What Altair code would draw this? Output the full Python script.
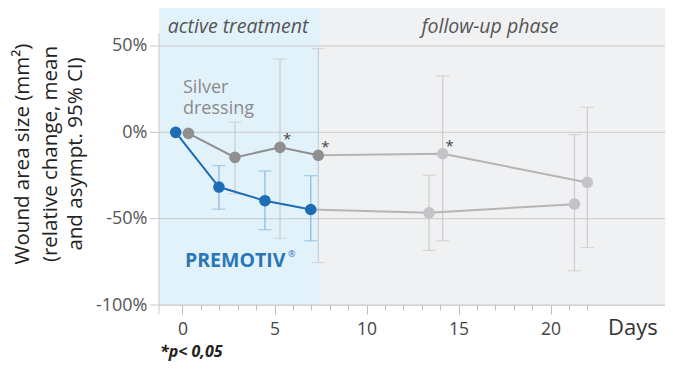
import altair as alt
import pandas as pd

# ---------------- data ----------------
premotiv_day = [-0.37, 1.98, 4.48, 6.97, 13.4, 21.3]
premotiv_mean = [0.0, -31.7, -39.6, -44.7, -46.6, -41.6]
premotiv_lo = [None, -44.5, -56.4, -62.8, -68.4, -80.2]
premotiv_hi = [None, -19.3, -22.4, -25.1, -24.8, -1.3]

silver_day = [0.32, 2.85, 5.3, 7.38, 14.14, 22.0]
silver_mean = [-0.6, -14.5, -8.7, -13.3, -12.4, -29.0]
silver_lo = [None, -35.6, -61.3, -75.4, -62.8, -66.7]
silver_hi = [None, 5.8, 42.5, 48.5, 32.7, 14.5]
silver_sig = [False, False, True, True, True, False]

y_ticks = [-100, -50, 0, 50]
x_ticks = list(range(0, 23))
phase_names = ["active treatment", "follow-up phase"]
phase_start = [-1.277, 7.47]
phase_end = [7.47, 26.22]

# ---------------- tables ----------------
rows = []
for name, d, m, lo, hi, sig in [
    ("P", premotiv_day, premotiv_mean, premotiv_lo, premotiv_hi, [False] * 6),
    ("S", silver_day, silver_mean, silver_lo, silver_hi, silver_sig),
]:
    for i in range(len(d)):
        rows.append(dict(series=name, idx=i, day=d[i], mean=m[i], lo=lo[i], hi=hi[i],
                         sig=sig[i], phase="active" if i < 4 else "follow"))
df = pd.DataFrame(rows)
df["pt"] = df.apply(lambda r: r.series + "_" + r.phase, axis=1)
df["err"] = df.apply(lambda r: "P_active" if r.pt == "P_active" else "other", axis=1)

line_rows = []
for _, r in df.iterrows():
    if r.idx <= 3:
        line_rows.append(dict(seg=r.series + "_active", day=r.day, mean=r["mean"], order=r.idx))
    if r.idx >= 3:
        line_rows.append(dict(seg=r.series + "_follow", day=r.day, mean=r["mean"], order=r.idx))
lines_df = pd.DataFrame(line_rows)

err_df = df.dropna(subset=["lo"])
caps_df = pd.concat([
    err_df[["day", "err"]].assign(v=err_df["lo"]),
    err_df[["day", "err"]].assign(v=err_df["hi"]),
])

bands_df = pd.DataFrame(dict(phase=phase_names, start=phase_start, end=phase_end))
grid_df = pd.DataFrame(dict(v=y_ticks))

# ---------------- scales / axes ----------------
W, H = 506, 297
FONT = "Open Sans"
xs = alt.Scale(domain=[phase_start[0], phase_end[1]], nice=False, zero=False)
ys = alt.Scale(domain=[-100, 72], nice=False, zero=False)

x_axis = alt.Axis(
    values=x_ticks,
    labelExpr="datum.value % 5 === 0 ? datum.label : ''",
    tickSize={"condition": {"test": "datum.value % 5 === 0", "value": 9}, "value": 5},
    tickColor="#bdbdbd", domain=False, grid=False, labelOverlap=False,
    labelFontSize=17.5, labelColor="#444", labelFont=FONT, labelPadding=6, title=None,
)
y_axis = alt.Axis(
    values=y_ticks, labelExpr="datum.value + '%'", domain=False, ticks=False, grid=False,
    labelPadding=12, labelFontSize=18, labelColor="#555", labelFont=FONT, title=None,
)

def X(f):
    return alt.X(f, type="quantitative", scale=xs, axis=x_axis)

def Y(f):
    return alt.Y(f, type="quantitative", scale=ys, axis=y_axis)

bands = alt.Chart(bands_df).mark_rect().encode(
    x=X("start"), x2="end", y=alt.value(-1), y2=alt.value(H),
    color=alt.Color("phase:N", scale=alt.Scale(domain=phase_names, range=["#e2f2fb", "#f0f1f3"]), legend=None),
)

grid = alt.Chart(grid_df).mark_rule(color="#c9c9c9", strokeWidth=1).encode(
    y=Y("v"), x=alt.value(-9), x2=alt.value(W),
)

yline = alt.Chart(grid_df.head(1)).mark_rule(color="#c9c9c9", strokeWidth=1).encode(
    x=alt.value(0), y=alt.value(25), y2=alt.value(H + 9),
)

err_color = alt.Color("err:N", scale=alt.Scale(domain=["P_active", "other"], range=["#8ab6dc", "#cbcbcb"]), legend=None)

errbars = alt.Chart(err_df).mark_rule(strokeWidth=1.2).encode(
    x=X("day"), y=Y("lo"), y2="hi", color=err_color,
)
caps = alt.Chart(caps_df).mark_tick(orient="horizontal", size=13, thickness=1.2).encode(
    x=X("day"), y=Y("v"), color=err_color,
)

seg_domain = ["P_active", "S_active", "P_follow", "S_follow"]
lines = alt.Chart(lines_df).mark_line(strokeWidth=2).encode(
    x=X("day"), y=Y("mean"), detail="seg:N", order="order:Q",
    color=alt.Color("seg:N", scale=alt.Scale(domain=seg_domain, range=["#1c6db4", "#8f8f8f", "#b5b5b5", "#b5b5b5"]), legend=None),
)

pts = alt.Chart(df).mark_circle(size=135, opacity=1).encode(
    x=X("day"), y=Y("mean"),
    color=alt.Color("pt:N", scale=alt.Scale(domain=seg_domain, range=["#1c6db4", "#8f8f8f", "#c3c4c8", "#c3c4c8"]), legend=None),
)

stars = alt.Chart(df[df.sig]).mark_text(text="*", fontSize=15, color="#444", dx=7, dy=-8, font=FONT).encode(
    x=X("day"), y=Y("mean"),
)

def label(txt, x, y, **kw):
    base = dict(font=FONT, align="left", baseline="alphabetic")
    base.update(kw)
    return alt.Chart(grid_df.head(1)).mark_text(text=txt, **base).encode(
        x=alt.value(x), y=alt.value(y))

texts = [
    label("active treatment", 79, 25, align="center", fontSize=19.5, fontStyle="italic", color="#555"),
    label("follow-up phase", 331, 25, align="center", fontSize=19.5, fontStyle="italic", color="#555"),
    label(["Silver", "dressing"], 24, 85, fontSize=18, lineHeight=21, color="#8a8a8a"),
    label("PREMOTIV", 26, 259, fontSize=19.5, fontWeight="bold", color="#2a76b8"),
    label("®", 129, 249, fontSize=9, color="#2a76b8"),
    label("Days", 449, 327, fontSize=22, color="#333"),
    label("*p< 0,05", 1, 349, fontSize=16, fontWeight="bold", fontStyle="italic", color="#222"),
    label("Wound area size (mm²)", -136, 146, align="center", baseline="middle", angle=270, fontSize=20.5, color="#222"),
    label("(relative change, mean", -108, 146, align="center", baseline="middle", angle=270, fontSize=20.5, color="#222"),
    label("and asympt. 95% CI)", -83, 146, align="center", baseline="middle", angle=270, fontSize=20.5, color="#222"),
]

chart = alt.layer(bands, grid, yline, errbars, caps, lines, pts, stars, *texts).resolve_scale(
    color="independent"
).properties(
    width=W, height=H,
    autosize=alt.AutoSizeParams(type="none"),
    padding={"left": 151, "top": 0, "right": 0, "bottom": 58},
).configure_view(stroke=None).configure(background="white")

chart.save("out.html", embed_options={"renderer": "svg", "actions": False})
